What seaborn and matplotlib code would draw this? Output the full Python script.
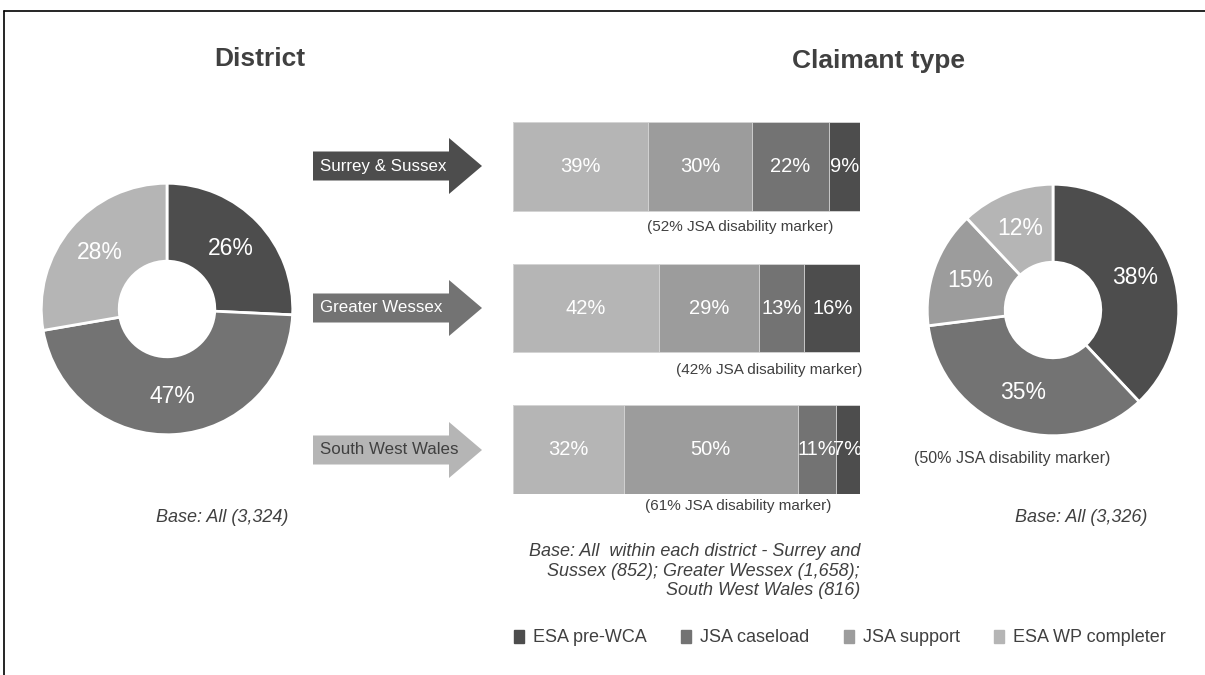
import matplotlib
matplotlib.use("Agg")
import matplotlib.pyplot as plt
import seaborn as sns
import pandas as pd
import numpy as np
from matplotlib.patches import FancyArrow, Patch

# ---- data ----
districts = ["Surrey & Sussex", "Greater Wessex", "South West Wales"]
district_share = [26, 47, 28]
district_base_all = "3,324"

claimant_types = ["ESA pre-WCA", "JSA caseload", "JSA support", "ESA WP completer"]
claimant_share = [38, 35, 15, 12]
claimant_base_all = "3,326"
claimant_marker = 50

# stacked bar segments, left to right
esa_wp_completer = [39, 42, 32]
jsa_support = [30, 29, 50]
jsa_caseload = [22, 13, 11]
esa_pre_wca = [9, 16, 7]
disability_marker = [52, 42, 61]
district_base = ["852", "1,658", "816"]

# ---- styling ----
W, H = 1205, 675
TXT = "#404040"
palette = {"ESA pre-WCA": "#4d4d4d", "JSA caseload": "#737373",
           "JSA support": "#9c9c9c", "ESA WP completer": "#b5b5b5"}
district_colors = ["#4d4d4d", "#737373", "#b5b5b5"]

sns.set_theme(style="white")
plt.rcParams['font.family'] = ['Liberation Sans', 'DejaVu Sans']

fig = plt.figure(figsize=(W / 100, H / 100), dpi=100)


def px_axes(x0, y0, w, h):
    # axes placed in pixel coords measured from top-left
    return fig.add_axes([x0 / W, 1 - (y0 + h) / H, w / W, h / H])


def donut(ax, values, colors):
    wedges, texts = ax.pie(values, colors=colors, startangle=90, counterclock=False,
                           labels=[f"{v}%" for v in values], labeldistance=0.7,
                           wedgeprops=dict(width=0.62, edgecolor="white", linewidth=2),
                           textprops=dict(color="white", fontsize=16.5))
    for t in texts:
        t.set_ha("center")
        t.set_va("center")
    ax.set_xlim(-1.01, 1.01)
    ax.set_ylim(-1.01, 1.01)


# left donut - district
ax_left = px_axes(40, 182, 254, 254)
donut(ax_left, district_share, district_colors)

# right donut - claimant type
ax_right = px_axes(926, 183, 254, 254)
donut(ax_right, claimant_share, [palette[c] for c in claimant_types])

# stacked bars (drawn as overlapping cumulative bars)
bar_ax = px_axes(513, 122, 347, 372)
layers = [("ESA WP completer", esa_wp_completer), ("JSA support", jsa_support),
          ("JSA caseload", jsa_caseload), ("ESA pre-WCA", esa_pre_wca)]
seg = pd.DataFrame({name: vals for name, vals in layers}, index=districts)
cum = seg.cumsum(axis=1)
for name, _ in reversed(layers):
    sns.barplot(x=cum[name].values, y=districts, orient="h", color=palette[name],
                saturation=1, width=0.627, errorbar=None, ax=bar_ax,
                edgecolor="#d8d8d8", linewidth=0.6)
for i, d in enumerate(districts):
    for name, _ in layers:
        v = seg.loc[d, name]
        centre = cum.loc[d, name] - v / 2
        bar_ax.text(centre, i, f"{v}%", color="white", fontsize=14.5,
                    ha="center", va="center")
bar_ax.set_xlim(0, 100)
bar_ax.set_ylim(2.3135, -0.3135)
bar_ax.axis("off")

# overlay in pixel coordinates for frame, arrows and notes
ov = fig.add_axes([0, 0, 1, 1])
ov.set_xlim(0, W)
ov.set_ylim(H, 0)
ov.axis("off")

ov.plot([4, 4], [11, H], color="black", lw=1.2)
ov.plot([4, W], [11, 11], color="black", lw=1.2)

ov.text(260, 59, "District", fontsize=19, fontweight="bold", color=TXT,
        ha="center", va="center")
ov.text(878, 61, "Claimant type", fontsize=19, fontweight="bold", color=TXT,
        ha="center", va="center")

arrow_y = [166, 308, 450]
arrow_txt = ["white", "white", TXT]
for d, cy, col, tc in zip(districts, arrow_y, district_colors, arrow_txt):
    ov.add_patch(FancyArrow(313, cy, 169, 0, width=29, head_width=56,
                            head_length=33, length_includes_head=True,
                            color=col, lw=0))
    ov.text(320, cy, d, fontsize=12.2, color=tc, ha="left", va="center")

note_pos = [(740, 227), (769, 370), (738, 506)]
for m, (x, y) in zip(disability_marker, note_pos):
    ov.text(x, y, f"({m}% JSA disability marker)", fontsize=11, color=TXT,
            ha="center", va="center")
ov.text(1012, 459, f"({claimant_marker}% JSA disability marker)", fontsize=11.5,
        color=TXT, ha="center", va="center")

ov.text(222, 517, f"Base: All ({district_base_all})", fontsize=13, style="italic",
        color=TXT, ha="center", va="center")
ov.text(1081, 518, f"Base: All ({claimant_base_all})", fontsize=13, style="italic",
        color=TXT, ha="center", va="center")

base_lines = ("Base: All  within each district - Surrey and\n"
              f"Sussex ({district_base[0]}); Greater Wessex ({district_base[1]});\n"
              f"South West Wales ({district_base[2]})")
ov.text(860, 571, base_lines, fontsize=13, style="italic", color=TXT,
        ha="right", va="center", linespacing=1.2)

handles = [Patch(color=palette[c], label=c) for c in claimant_types]
ov.legend(handles=handles, loc="center", bbox_to_anchor=(840 / W, 1 - 638 / H),
          bbox_transform=fig.transFigure, ncol=4, frameon=False, fontsize=13,
          handlelength=0.55, handleheight=0.7, handletextpad=0.5,
          columnspacing=1.9, labelcolor=TXT)

fig.savefig("out.png", dpi=100)
